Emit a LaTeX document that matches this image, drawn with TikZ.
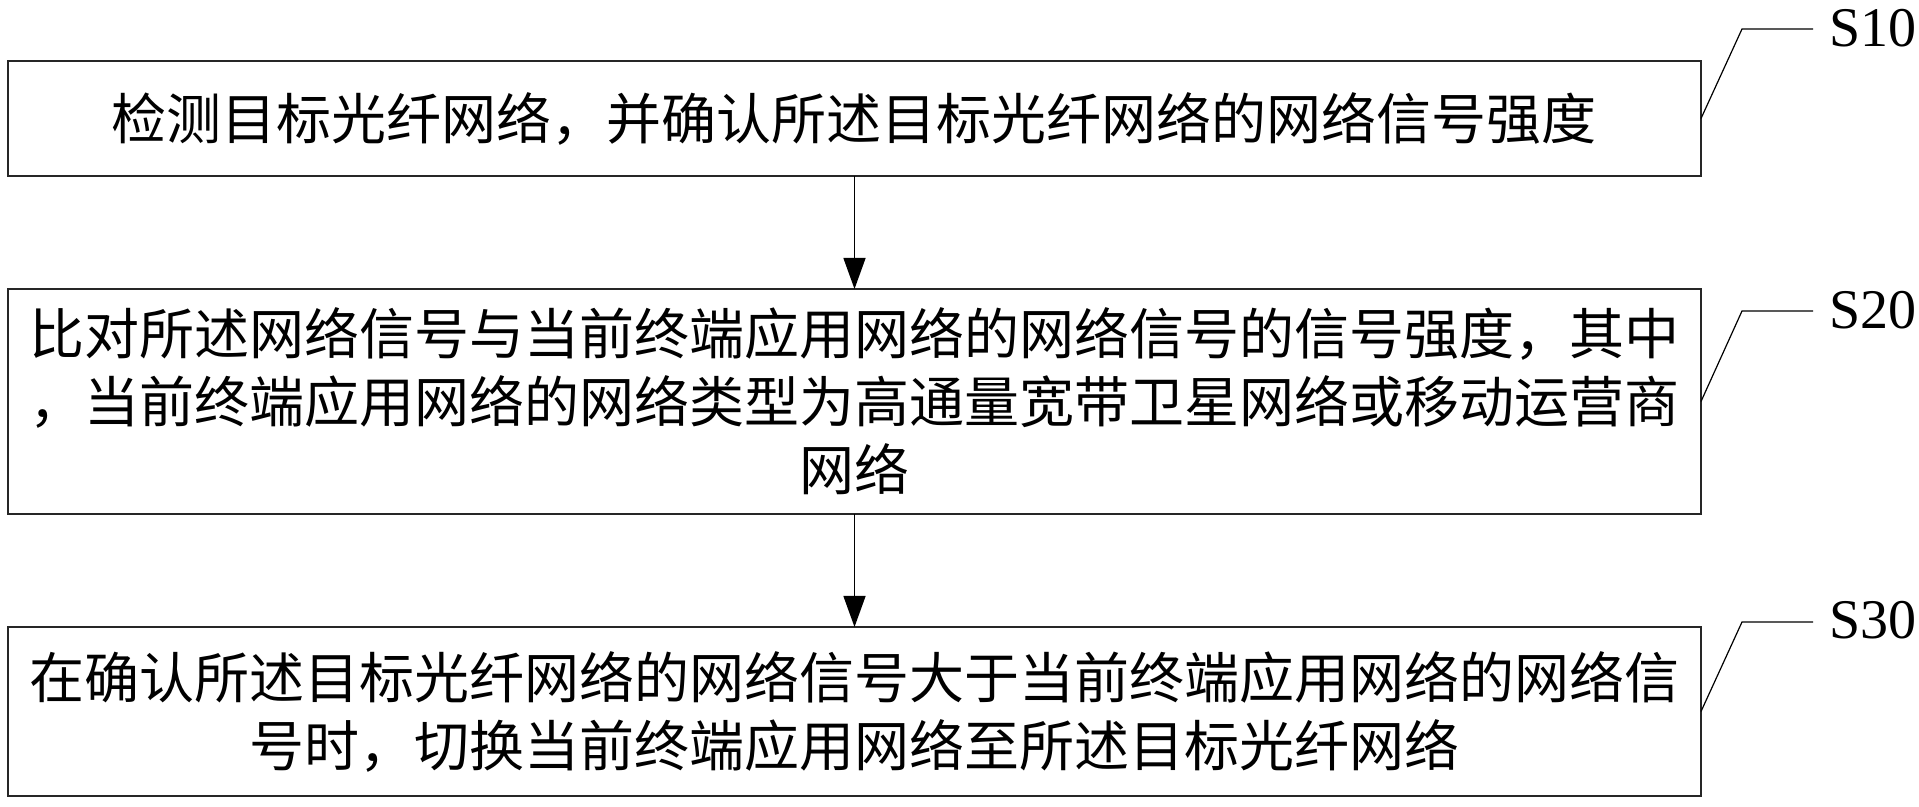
\documentclass[tikz,border=0pt]{standalone}
\usepackage{fontspec}
\setmainfont{Liberation Serif}
\newfontfamily\cjk{Noto Sans CJK SC}
\usetikzlibrary{arrows.meta}
\tikzset{
  stepbox/.style={draw=black!85, line width=0.9pt, inner sep=0pt, outer sep=0pt,
    minimum width=846.5pt, align=center,
    font=\cjk\fontsize{27.5pt}{34pt}\selectfont},
  flowarrow/.style={draw=black, line width=0.7pt, -{Triangle[length=15.5pt,width=11pt]}},
  leader/.style={draw=black, line width=0.6pt},
  steplabel/.style={anchor=west, inner sep=0pt, font=\fontsize{28pt}{30pt}\selectfont}
}
\begin{document}
\begin{tikzpicture}[x=0.5pt,y=-0.5pt]
\useasboundingbox[fill=white] (0,0) rectangle (1919,807);
\node[stepbox, minimum height=57.5pt] (b1) at (854.5,118.5) {检测目标光纤网络，并确认所述目标光纤网络的网络信号强度};
\node[stepbox, minimum height=112.5pt] (b2) at (854.5,401.5) {比对所述网络信号与当前终端应用网络的网络信号的信号强度，其中\\，当前终端应用网络的网络类型为高通量宽带卫星网络或移动运营商\\网络};
\node[stepbox, minimum height=84.5pt] (b3) at (854.5,711.5) {在确认所述目标光纤网络的网络信号大于当前终端应用网络的网络信\\号时，切换当前终端应用网络至所述目标光纤网络};
\draw[flowarrow] (b1) -- (b2);
\draw[flowarrow] (b2) -- (b3);
\node[steplabel] (s10) at (1829,28) {S10};
\node[steplabel] (s20) at (1829,310) {S20};
\node[steplabel] (s30) at (1829,620) {S30};
\coordinate (k1) at (1742,29);
\coordinate (e1) at (1813,29);
\coordinate (k2) at (1742,311);
\coordinate (e2) at (1813,311);
\coordinate (k3) at (1742,622);
\coordinate (e3) at (1813,622);
\draw[leader] (b1.east) -- (k1) -- (e1);
\draw[leader] (b2.east) -- (k2) -- (e2);
\draw[leader] (b3.east) -- (k3) -- (e3);
\end{tikzpicture}
\end{document}
